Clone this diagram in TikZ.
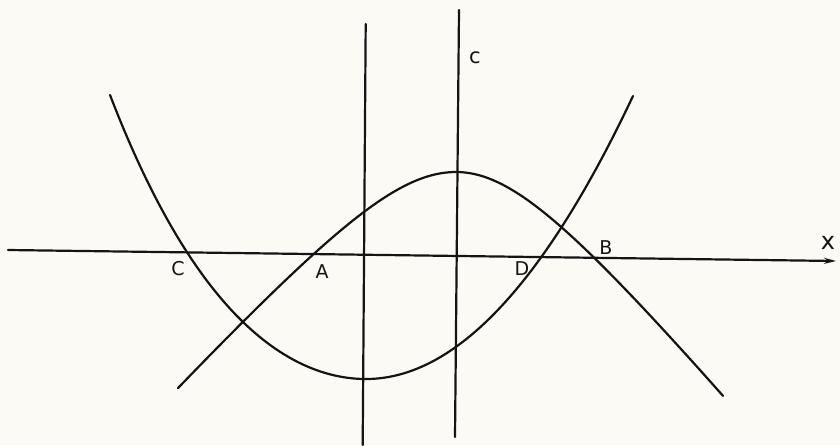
\documentclass[tikz,border=0pt]{standalone}
\usepackage{fontspec}
\setmainfont{DejaVu Sans}
\usetikzlibrary{arrows.meta}
\definecolor{paper}{RGB}{251,250,245}
\definecolor{ink}{RGB}{20,20,20}
\tikzset{
  curve/.style={draw=ink, line width=2.2pt, line cap=round, line join=round},
  lbl/.style={text=ink, inner sep=0pt, font=\fontsize{19}{19}\selectfont},
  declare function={
    parL(\x)=379-35.98*((\x-366)/100)*((\x-366)/100)-1.123*((\x-366)/100)*((\x-366)/100)*((\x-366)/100)*((\x-366)/100);
    parR(\x)=379-39.7*((\x-366)/100)*((\x-366)/100);
    humL(\x)=172+110*(sqrt(((\x-456)/100)*((\x-456)/100)+0.985*0.985)-0.985);
    humR(\x)=172+120*(sqrt(((\x-456)/100)*((\x-456)/100)+0.978*0.978)-0.978);
  },
}
\begin{document}
\begin{tikzpicture}[x=1pt,y=-1pt]
\fill[paper] (0,0) rectangle (840,445);
\useasboundingbox (0,0) rectangle (840,445);
% axis
\coordinate (ax0) at (8,250);
\coordinate (ax1) at (836,261);
\draw[curve, -{Stealth[length=12pt,width=6pt]}] (ax0) -- (ax1);
% vertical lines
\coordinate (v1t) at (365.7,24);
\coordinate (v1b) at (362.7,445);
\draw[curve] (v1t) -- (v1b);
\coordinate (v2t) at (459,10);
\coordinate (v2b) at (455,437);
\draw[curve] (v2t) -- (v2b);
% parabola (upward)
\draw[curve] plot[domain=110:366, samples=80, smooth] (\x,{parL(\x)})
  -- plot[domain=366:633, samples=80, smooth] (\x,{parR(\x)});
% hump curve
\draw[curve] plot[domain=178:456, samples=80, smooth] (\x,{humL(\x)})
  -- plot[domain=456:723, samples=80, smooth] (\x,{humR(\x)});
% labels
\node[lbl] (C) at (178,269) {C};
\node[lbl] (A) at (322,272) {A};
\node[lbl] (D) at (522,269) {D};
\node[lbl] (B) at (606,248) {B};
\node[lbl, font=\fontsize{24}{24}\selectfont] (xl) at (828,243) {x};
\node[lbl, font=\fontsize{21}{21}\selectfont] (cl) at (475,58) {c};
\end{tikzpicture}
\end{document}
